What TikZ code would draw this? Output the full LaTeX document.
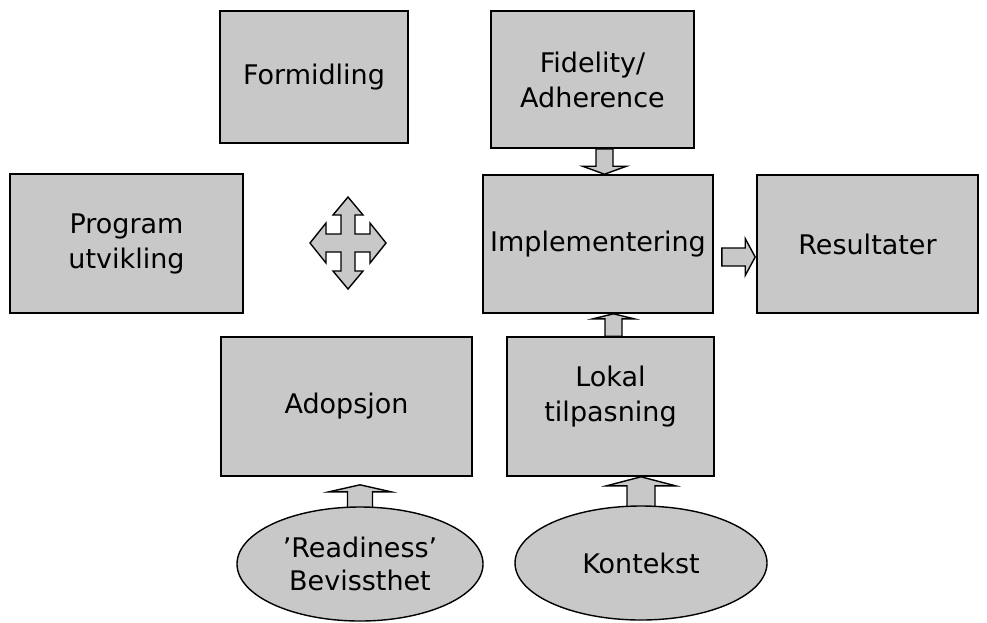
\documentclass[tikz,border=0pt]{standalone}
\usepackage{fontspec}
\setmainfont{DejaVu Sans}
\usetikzlibrary{calc,shapes.geometric,backgrounds}
\definecolor{boxgray}{RGB}{200,200,200}
% block arrow: #1 tail, #2 tip, #3 shaft half width, #4 head half width, #5 head length
\newcommand\blockarrow[5]{%
  \path (#2) coordinate (ba-tip) ($(#2)!#5!(#1)$) coordinate (ba-base);
  \draw[barr] ($(#1)!#3!90:(#2)$) -- ($(ba-base)!#3!-90:(#1)$) -- ($(ba-base)!#4!-90:(#1)$)
    -- (ba-tip) -- ($(ba-base)!#4!90:(#1)$) -- ($(ba-base)!#3!90:(#1)$)
    -- ($(#1)!#3!-90:(#2)$) -- cycle;}
\begin{document}
\begin{tikzpicture}[x=1pt,y=-1pt,
  box/.style={draw=black,line width=1.6pt,fill=boxgray,align=center,inner sep=0pt,
    font=\fontsize{27}{35}\selectfont},
  lbl/.style={align=center,inner sep=0pt,font=\fontsize{27}{35}\selectfont},
  oval/.style={ellipse,draw=black,line width=1.4pt,fill=boxgray,align=center,inner sep=0pt,
    font=\fontsize{27}{33}\selectfont},
  barr/.style={draw=black,line width=1.4pt,fill=boxgray,line join=miter}]
\useasboundingbox (0,0) rectangle (987,622);

\node[box,minimum width=188,minimum height=132] (form) at (314,77)
  {\raisebox{-4pt}{Formidling}};
\node[box,minimum width=203,minimum height=137] (fid) at (592.5,79.5) {Fidelity/\\Adherence};
\node[box,minimum width=233,minimum height=139] (prog) at (126.5,243.5) {Program\\utvikling};
\node[box,minimum width=230,minimum height=138] (imp) at (598,244) {Implementering};
\node[box,minimum width=221,minimum height=138] (res) at (867.5,244) {Resultater};
\node[box,minimum width=251,minimum height=139] (adop) at (346.5,406.5)
  {\raisebox{-3pt}{Adopsjon}};
\node[box,minimum width=207,minimum height=139,
  label={[lbl,name=lokt,yshift=10pt]center:Lokal\\tilpasning}] (lok) at (610.5,406.5) {};
\node[oval,minimum width=246,minimum height=114] (ready) at (360,564) {’Readiness’\\Bevissthet};
\node[oval,minimum width=252,minimum height=114] (kont) at (641,563) {Kontekst};

% connector end points
\coordinate (a1t) at (604.5,0 |- fid.south);
\coordinate (a1h) at (604.5,0 |- imp.north);
\coordinate (a2t) at ($(imp.east)+(8,13)$);
\coordinate (a2h) at ($(res.west)+(-1,13)$);
\coordinate (a3t) at (613.5,0 |- lok.north);
\coordinate (a3h) at (613.5,0 |- imp.south);
\coordinate (a4t) at ($(ready.north)+(0,3)$);
\coordinate (a4h) at ($(adop.south -| ready.north)+(0,8)$);
\coordinate (a5t) at ($(kont.north)+(0,3)$);
\coordinate (a5h) at (kont.north |- lok.south);

\begin{scope}[on background layer]
\blockarrow{a1t}{a1h}{8.5pt}{22pt}{8pt}
\blockarrow{a3t}{a3h}{8.5pt}{20.5pt}{5pt}
\blockarrow{a4t}{a4h}{12.5pt}{31pt}{7pt}
\blockarrow{a5t}{a5h}{14pt}{34.5pt}{9pt}
\end{scope}
\blockarrow{a2t}{a2h}{9pt}{18.5pt}{10pt}

% four-way arrow
\begin{scope}[shift={(348,243)}]
\draw[barr] (-7,-9) -- (-7,-28) -- (-15,-28) -- (0,-46) -- (15,-28) -- (7,-28) -- (7,-9)
  -- (22,-9) -- (22,-20) -- (38,0) -- (22,20) -- (22,9) -- (7,9)
  -- (7,28) -- (15,28) -- (0,46) -- (-15,28) -- (-7,28) -- (-7,9)
  -- (-22,9) -- (-22,20) -- (-38,0) -- (-22,-20) -- (-22,-9) -- cycle;
\end{scope}
\end{tikzpicture}
\end{document}
